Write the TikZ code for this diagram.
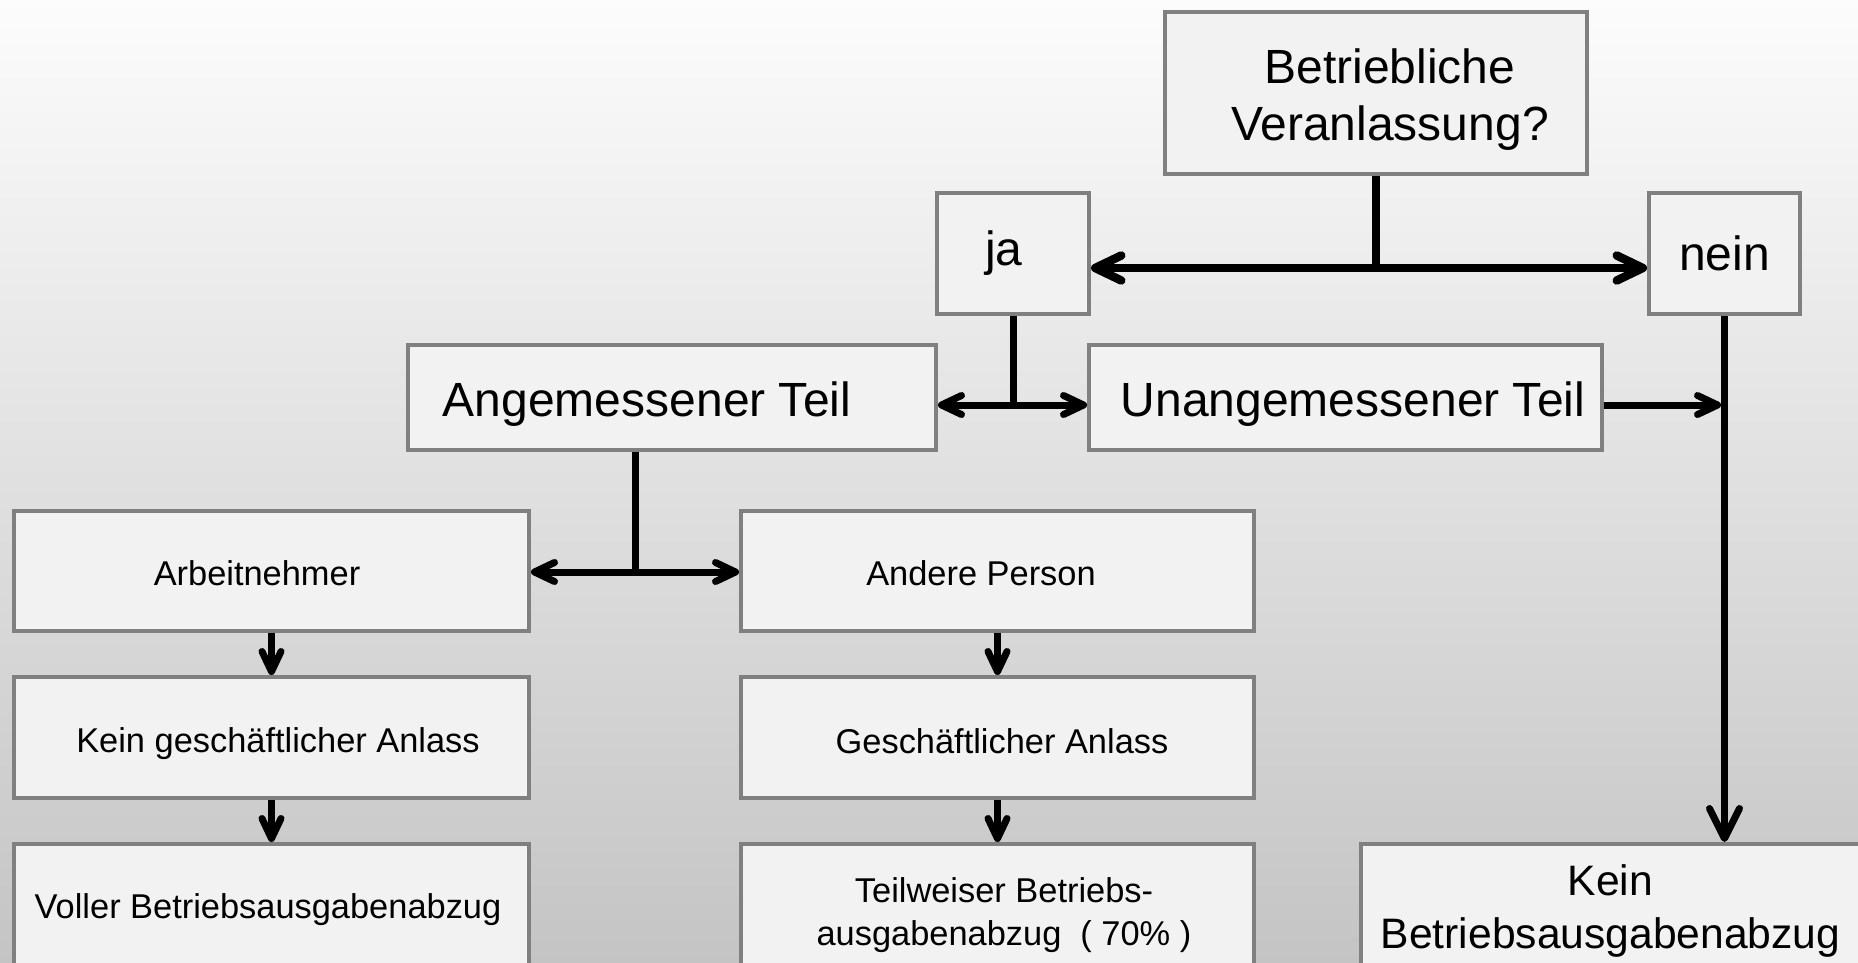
\documentclass[tikz,border=0pt]{standalone}
\usepackage{fontspec}
\setmainfont{Liberation Sans}
\usetikzlibrary{arrows.meta}
\definecolor{bgtop}{HTML}{FCFCFC}
\definecolor{bgbot}{HTML}{C4C4C4}
\definecolor{boxfill}{HTML}{F2F2F2}
\definecolor{boxline}{HTML}{808080}
\begin{document}
\begin{tikzpicture}[x=0.5pt,y=-0.5pt,
  box/.style={draw=boxline,line width=2pt,fill=boxfill,inner sep=0pt},
  big/.style={font=\fontsize{24pt}{28.5pt}\selectfont,align=center},
  small/.style={font=\fontsize{17.2pt}{21.5pt}\selectfont,align=center},
  kbfont/.style={font=\fontsize{21.3pt}{26.5pt}\selectfont,align=center},
  conn/.style={line width=3.5pt},
  thickconn/.style={line width=4.25pt},
  tipT/.style={-{Straight Barb[length=13pt,width=12.5pt,line cap=round,line join=round]}},
  tipM/.style={-{Straight Barb[length=10pt,width=9.5pt,line cap=round,line join=round]}},
  tipL/.style={-{Straight Barb[length=15pt,width=15pt,line cap=round,line join=round]}}
]
\useasboundingbox (0,0) rectangle (1858,963);
\shade[top color=bgtop,bottom color=bgbot] (0,0) rectangle (1858,963);

\node[box,minimum width=211pt,minimum height=81pt,
  label={[name=Bt,big,xshift=7pt,yshift=-3.5pt]center:Betriebliche\\Veranlassung?}] (B) at (1376,93) {};
\node[box,minimum width=76pt,minimum height=60.5pt,
  label={[name=jat,big,xshift=-4.5pt]center:ja}] (ja) at (1013,253.5) {};
\node[box,minimum width=75.5pt,minimum height=60.5pt,
  label={[name=neint,big]center:nein}] (nein) at (1724.5,253.5) {};
\node[box,minimum width=264pt,minimum height=52.5pt,
  label={[name=angt,big,xshift=-12.5pt,yshift=-3.5pt]center:Angemessener Teil}] (ang) at (672,397.5) {};
\node[box,minimum width=256.5pt,minimum height=52.5pt,
  label={[name=unangt,big,xshift=3.75pt,yshift=-3.5pt]center:Unangemessener Teil}] (unang) at (1345.5,397.5) {};

\node[box,minimum width=257.5pt,minimum height=60pt,
  label={[name=arbt,small,xshift=-7.25pt,yshift=-1.2pt]center:Arbeitnehmer}] (arb) at (271.5,571) {};
\node[box,minimum width=257.5pt,minimum height=60.5pt,
  label={[name=kgat,small,xshift=3.25pt,yshift=-3pt]center:Kein geschäftlicher Anlass}] (kga) at (271.5,737.5) {};
\node[box,minimum width=257.5pt,minimum height=60.5pt,
  label={[name=vollt,small,xshift=-1.75pt,yshift=-2.4pt]center:Voller Betriebsausgabenabzug}] (voll) at (271.5,904.5) {};

\node[box,minimum width=256.5pt,minimum height=60pt,
  label={[name=andt,small,xshift=-8.25pt,yshift=-1.2pt]center:Andere Person}] (and) at (997.5,571) {};
\node[box,minimum width=256.5pt,minimum height=60.5pt,
  label={[name=gat,small,xshift=2.25pt,yshift=-1.8pt]center:Geschäftlicher Anlass}] (ga) at (997.5,737.5) {};
\node[box,minimum width=256.5pt,minimum height=60.5pt,
  label={[name=teilt,small,xshift=3.25pt,yshift=-5.3pt]center:Teilweiser Betriebs-\\ausgabenabzug\ \ ( 70\% )}] (teil) at (997.5,904.5) {};

\node[box,minimum width=250pt,minimum height=60.5pt,
  label={[name=kbt,kbfont,yshift=-3pt]center:Kein\\Betriebsausgabenabzug}] (kb) at (1610.5,904.5) {};

% connectors
\coordinate (j1) at (1376,268);
\draw[thickconn] (B.south) -- (j1);
\draw[thickconn,tipT] (j1) -- (ja.east |- j1);
\draw[thickconn,tipT] (j1) -- (nein.west |- j1);

\coordinate (j2) at (1013,405);
\draw[conn] (ja.south) -- (j2);
\draw[conn,tipM] (j2) -- (ang.east |- j2);
\draw[conn,tipM] (j2) -- (unang.west |- j2);

\coordinate (j3) at (635,572);
\draw[conn] (ang.south -| j3) -- (j3);
\draw[conn,tipM] (j3) -- (arb.east |- j3);
\draw[conn,tipM] (j3) -- (and.west |- j3);

\draw[conn,tipM] (arb.south) -- (kga.north);
\draw[conn,tipM] (kga.south) -- (voll.north);
\draw[conn,tipM] (and.south) -- (ga.north);
\draw[conn,tipM] (ga.south) -- (teil.north);

\coordinate (j4) at (1724.5,405);
\draw[conn,tipL] (nein.south) -- (nein.south |- kb.north);
\draw[conn,tipM,shorten >=1.75pt] (unang.east |- j4) -- (j4);
\end{tikzpicture}
\end{document}
